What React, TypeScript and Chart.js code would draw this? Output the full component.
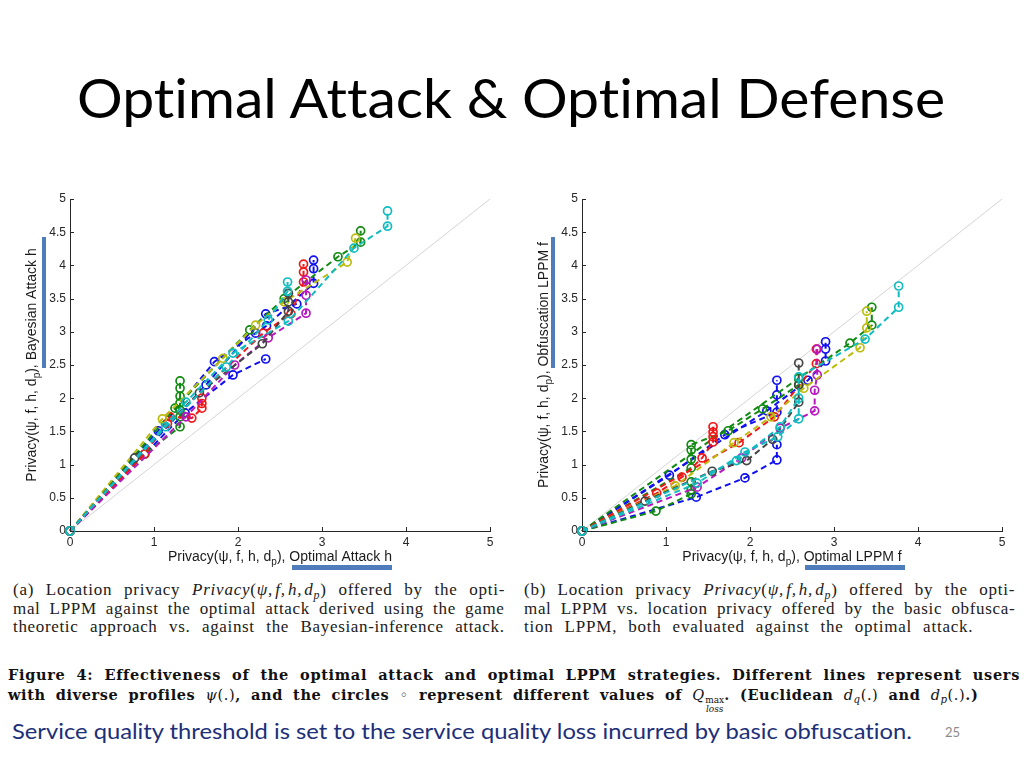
import React, { useEffect, useLayoutEffect, useRef } from 'react';
import { Chart, registerables } from 'chart.js';
Chart.register(...registerables);

type P = [number, number];

// ---------- axis ticks ----------
const xTickValues = [0, 1, 2, 3, 4, 5];
const yTickValues = [0, 0.5, 1, 1.5, 2, 2.5, 3, 3.5, 4, 4.5, 5];
const diagonal: P[] = [[0, 0], [5, 5]];

// ---------- (a) optimal attack (x) vs Bayesian attack (y) ----------
const aCyan1: P[] = [[0, 0], [1.14, 1.57], [1.86, 2.47], [2.36, 3.18], [2.59, 3.61], [2.59, 3.75]];
const aCyan2: P[] = [[0, 0], [1.38, 1.94], [1.94, 2.68], [2.6, 3.16], [3.38, 4.26], [3.78, 4.59], [3.78, 4.82]];
const aGreen1: P[] = [[0, 0], [0.89, 1.16], [1.31, 1.57], [1.31, 1.72], [1.31, 1.82], [1.31, 1.93], [1.31, 2.03], [1.31, 2.15], [1.31, 2.26]];
const aGreen2: P[] = [[0, 0], [1.25, 1.85], [2.14, 3.03], [2.55, 3.5], [3.19, 4.13], [3.46, 4.35], [3.46, 4.52]];
const aRed1: P[] = [[0, 0], [0.89, 1.16], [1.19, 1.72], [1.45, 1.7], [1.57, 1.85], [1.57, 1.92], [1.57, 2.0]];
const aRed2: P[] = [[0, 0], [1.16, 1.62], [2.3, 2.98], [2.63, 3.27], [2.78, 3.75], [2.78, 3.9], [2.78, 4.02]];
const aGrey1: P[] = [[0, 0], [0.77, 1.1], [1.54, 2.08], [2.29, 2.82], [2.6, 3.31], [2.6, 3.45], [2.6, 3.58]];
const aYellow1: P[] = [[0, 0], [1.1, 1.69], [1.82, 2.6], [2.21, 3.1], [2.55, 3.45], [3.3, 4.05], [3.4, 4.41]];
const aBlue1: P[] = [[0, 0], [1.05, 1.51], [1.72, 2.55], [2.21, 2.98], [2.34, 3.09], [2.9, 3.73], [2.9, 3.95], [2.9, 4.08]];
const aBlue2: P[] = [[0, 0], [1.37, 1.78], [1.94, 2.35], [2.33, 2.59]];
const aBlue3: P[] = [[0, 0], [1.62, 2.2], [2.33, 3.27], [2.7, 3.42]];
const aMagenta1: P[] = [[0, 0], [1.38, 1.72], [1.96, 2.5], [2.36, 2.91], [2.81, 3.28], [2.81, 3.55], [2.81, 3.78]];

// ---------- (b) optimal LPPM (x) vs obfuscation LPPM (y) ----------
const bCyan1: P[] = [[0, 0], [1.37, 0.72], [1.94, 1.19], [2.33, 1.42], [2.58, 1.69], [2.58, 2.32], [3.37, 2.89], [3.77, 3.37], [3.77, 3.69]];
const bCyan2: P[] = [[0, 0], [1.84, 1.06], [2.36, 1.57], [2.58, 2.0]];
const bBlue1: P[] = [[0, 0], [1.04, 0.84], [1.7, 1.45], [2.32, 1.79], [2.32, 2.05], [2.32, 2.27]];
const bBlue2: P[] = [[0, 0], [1.36, 0.51], [1.94, 0.8], [2.32, 1.07], [2.32, 1.3]];
const bBlue3: P[] = [[0, 0], [2.2, 1.81], [2.69, 2.27], [2.9, 2.56], [2.9, 2.74], [2.9, 2.85]];
const bGreen1: P[] = [[0, 0], [0.88, 0.3], [1.3, 0.56], [1.3, 0.62], [1.3, 0.74]];
const bGreen2: P[] = [[0, 0], [1.3, 0.95], [1.3, 1.08], [1.3, 1.22], [1.3, 1.3], [1.74, 1.51], [2.15, 1.84], [2.58, 2.2]];
const bGreen3: P[] = [[0, 0], [2.58, 2.3], [3.19, 2.83], [3.45, 3.1], [3.45, 3.37]];
const bRed1: P[] = [[0, 0], [0.89, 0.57], [1.19, 0.81], [1.43, 1.1], [1.56, 1.34], [1.56, 1.42], [1.56, 1.49], [1.56, 1.57]];
const bRed2: P[] = [[0, 0], [1.87, 1.33], [2.29, 1.72], [2.79, 2.52], [2.79, 2.74]];
const bGrey1: P[] = [[0, 0], [0.75, 0.45], [1.55, 0.9], [1.96, 1.06], [2.27, 1.38], [2.58, 1.94], [2.58, 2.2], [2.58, 2.53]];
const bYellow1: P[] = [[0, 0], [1.11, 0.68], [1.81, 1.33], [2.25, 1.72], [2.64, 2.15], [3.31, 2.76], [3.39, 3.06], [3.39, 3.31]];
const bMagenta1: P[] = [[0, 0], [1.37, 0.66], [1.9, 1.1], [2.36, 1.55], [2.77, 1.81], [2.77, 2.12], [2.8, 2.35], [2.8, 2.74]];

// ---------- styles ----------
const palette: Record<string, string> = {
  blue: '#1010f0',
  green: '#108a10',
  red: '#f01818',
  cyan: '#10bcc0',
  magenta: '#b818c0',
  yellow: '#bcbc10',
  grey: '#444444',
};

const seriesA: { data: P[]; color: string }[] = [
  { data: aCyan2, color: 'cyan' },
  { data: aCyan1, color: 'cyan' },
  { data: aGrey1, color: 'grey' },
  { data: aYellow1, color: 'yellow' },
  { data: aMagenta1, color: 'magenta' },
  { data: aRed2, color: 'red' },
  { data: aRed1, color: 'red' },
  { data: aGreen2, color: 'green' },
  { data: aGreen1, color: 'green' },
  { data: aBlue1, color: 'blue' },
  { data: aBlue2, color: 'blue' },
  { data: aBlue3, color: 'blue' },
];
const seriesB: { data: P[]; color: string }[] = [
  { data: bCyan1, color: 'cyan' },
  { data: bCyan2, color: 'cyan' },
  { data: bGrey1, color: 'grey' },
  { data: bYellow1, color: 'yellow' },
  { data: bMagenta1, color: 'magenta' },
  { data: bRed1, color: 'red' },
  { data: bRed2, color: 'red' },
  { data: bGreen1, color: 'green' },
  { data: bGreen2, color: 'green' },
  { data: bGreen3, color: 'green' },
  { data: bBlue1, color: 'blue' },
  { data: bBlue2, color: 'blue' },
  { data: bBlue3, color: 'blue' },
];

const AX = '#262626';
const SANS = "'Liberation Sans', Arial, sans-serif";

type Part = { t: string; sub?: boolean };
function drawParts(ctx: CanvasRenderingContext2D, parts: Part[], cx: number, cy: number) {
  const f = `14px ${SANS}`;
  const fs = `10px ${SANS}`;
  let total = 0;
  parts.forEach((p) => {
    ctx.font = p.sub ? fs : f;
    total += ctx.measureText(p.t).width;
  });
  let x = cx - total / 2;
  ctx.textBaseline = 'middle';
  ctx.textAlign = 'left';
  parts.forEach((p) => {
    ctx.font = p.sub ? fs : f;
    ctx.fillText(p.t, x, cy + (p.sub ? 5 : 0));
    x += ctx.measureText(p.t).width;
  });
}

function makeDecor(xTail: string, yTail: string) {
  return {
    id: 'decor',
    afterDraw(chart: any) {
      const { ctx, chartArea, scales } = chart;
      const { left, bottom } = chartArea;
      ctx.save();
      ctx.strokeStyle = AX;
      ctx.lineWidth = 1;
      ctx.beginPath();
      yTickValues.forEach((v) => {
        const py = Math.round(scales.y.getPixelForValue(v)) + 0.5;
        ctx.moveTo(left, py);
        ctx.lineTo(left + 4, py);
      });
      xTickValues.forEach((v) => {
        const px = Math.round(scales.x.getPixelForValue(v)) + 0.5;
        ctx.moveTo(px, bottom);
        ctx.lineTo(px, bottom - 4);
      });
      ctx.stroke();
      ctx.fillStyle = '#1a1a1a';
      const head: Part[] = [{ t: 'Privacy(ψ, f, h, d' }, { t: 'p', sub: true }];
      drawParts(ctx, [...head, { t: '), ' + xTail }], (chartArea.left + chartArea.right) / 2, bottom + 26);
      ctx.save();
      ctx.translate(32, (chartArea.top + chartArea.bottom) / 2);
      ctx.rotate(-Math.PI / 2);
      drawParts(ctx, [...head, { t: '), ' + yTail }], 0, 0);
      ctx.restore();
      ctx.restore();
    },
  };
}

function PrivacyChart(props: { series: { data: P[]; color: string }[]; xTail: string; yTail: string; left: number }) {
  const ref = useRef<HTMLCanvasElement>(null);
  useEffect(() => {
    const tickFont = { family: SANS, size: 12 };
    const datasets: any[] = props.series.map((s) => ({
      data: s.data.map(([x, y]) => ({ x, y })),
      borderColor: palette[s.color],
      backgroundColor: 'rgba(0,0,0,0)',
      pointBorderColor: palette[s.color],
      pointBackgroundColor: 'rgba(0,0,0,0)',
      borderDash: [6, 4],
      borderWidth: 2,
      pointRadius: 4,
      pointBorderWidth: 1.7,
      showLine: true,
      clip: false,
    }));
    datasets.push({
      data: diagonal.map(([x, y]) => ({ x, y })),
      borderColor: '#d4d4d4',
      borderWidth: 1,
      pointRadius: 0,
      showLine: true,
      order: 100,
    });
    const chart = new Chart(ref.current as HTMLCanvasElement, {
      type: 'scatter',
      data: { datasets },
      options: {
        animation: false,
        responsive: false,
        events: [],
        plugins: { legend: { display: false }, tooltip: { enabled: false } },
        layout: { padding: { top: 19, right: 20, left: 0, bottom: 0 } },
        scales: {
          x: {
            type: 'linear',
            min: 0,
            max: 5,
            afterFit: (s: any) => { s.height = 49; },
            afterBuildTicks: (s: any) => { s.ticks = xTickValues.map((v) => ({ value: v })); },
            ticks: { font: tickFont, color: AX, padding: 4, maxRotation: 0, callback: (v: any) => String(v) },
            grid: { display: false, drawTicks: false },
            border: { display: true, color: AX, width: 1 },
          },
          y: {
            type: 'linear',
            min: 0,
            max: 5,
            afterFit: (s: any) => { s.width = 70; },
            afterBuildTicks: (s: any) => { s.ticks = yTickValues.map((v) => ({ value: v })); },
            ticks: { font: tickFont, color: AX, padding: 4, callback: (v: any) => String(v) },
            grid: { display: false, drawTicks: false },
            border: { display: true, color: AX, width: 1 },
          },
        },
      } as any,
      plugins: [makeDecor(props.xTail, props.yTail)],
    });
    return () => chart.destroy();
  }, []);
  return (
    <canvas
      ref={ref}
      width={510}
      height={400}
      style={{ position: 'absolute', left: props.left, top: 180, width: 510, height: 400 }}
    />
  );
}

function Line(props: { w: number; mode?: 'justify' | 'scale'; style?: React.CSSProperties; children: React.ReactNode }) {
  const ref = useRef<HTMLSpanElement>(null);
  const mode = props.mode || 'justify';
  useLayoutEffect(() => {
    const el = ref.current;
    if (!el) return;
    const measure = () => {
      el.style.wordSpacing = '0px';
      el.style.letterSpacing = '0px';
      el.style.transform = 'none';
      const nat = el.offsetWidth;
      const txt = el.textContent || '';
      const spaces = txt.split(' ').length - 1;
      const chars = txt.length;
      if (mode === 'justify' && nat < props.w && spaces > 0) {
        const extra = props.w - nat;
        const ls = Math.min((extra * 0.5) / chars, 1.0);
        el.style.letterSpacing = ls + 'px';
        const nat2 = el.offsetWidth;
        el.style.wordSpacing = Math.max(0, props.w - nat2) / spaces + 'px';
      } else if (nat > 0) {
        el.style.transform = `scaleX(${props.w / nat})`;
      }
    };
    measure();
    const fonts = (document as any).fonts;
    if (fonts && fonts.ready) fonts.ready.then(measure);
  }, [props.w, mode]);
  return (
    <div style={{ whiteSpace: 'nowrap', ...props.style }}>
      <span ref={ref} style={{ display: 'inline-block', transformOrigin: '0 0' }}>
        {props.children}
      </span>
    </div>
  );
}

const Sub = (p: { children: React.ReactNode }) => (
  <span style={{ fontSize: '0.7em', position: 'relative', top: '0.3em' }}>{p.children}</span>
);

const PrivacyMath = () => (
  <>
    <i>Privacy</i>(<i>ψ,</i>&#8202;<i>f,</i>&#8202;<i>h,</i>&#8202;<i>d</i>
    <Sub>
      <i>p</i>
    </Sub>
    )
  </>
);

const Qmax = () => (
  <span style={{ fontWeight: 400, letterSpacing: 0 }}>
    <i>Q</i>
    <span
      style={{
        display: 'inline-flex',
        flexDirection: 'column',
        alignItems: 'center',
        fontSize: '0.62em',
        lineHeight: 1,
        verticalAlign: '-0.35em',
        marginLeft: 1,
        letterSpacing: 0,
      }}
    >
      <span>max</span>
      <i>loss</i>
    </span>
  </span>
);

const M = (p: { children: React.ReactNode }) => <span style={{ fontWeight: 400, fontStyle: 'italic' }}>{p.children}</span>;

const barColor = '#4f7dbb';

export default function App() {
  const serif = "'Liberation Serif', 'Times New Roman', serif";
  const capStyle: React.CSSProperties = { fontFamily: serif, fontSize: 17, lineHeight: '18px', color: '#202020' };
  const figStyle: React.CSSProperties = {
    fontFamily: "'DejaVu Serif', serif",
    fontWeight: 700,
    fontSize: 14.5,
    lineHeight: '20px',
    color: '#111',
  };
  return (
    <div
      style={{
        position: 'fixed',
        left: 0,
        top: 0,
        width: 1024,
        height: 768,
        background: '#fff',
        overflow: 'hidden',
        fontVariantLigatures: 'none',
      }}
    >
      <div
        style={{
          position: 'absolute',
          left: 77,
          top: 70,
          fontFamily: 'Lato, sans-serif',
          fontSize: 55,
          lineHeight: '55px',
          color: '#000',
        }}
      >
        <Line w={868} mode="scale">Optimal Attack &amp; Optimal Defense</Line>
      </div>

      <PrivacyChart series={seriesA} xTail="Optimal Attack h" yTail="Bayesian Attack h" left={0} />
      <PrivacyChart series={seriesB} xTail="Optimal LPPM f" yTail="Obfuscation LPPM f" left={512} />

      <div style={{ position: 'absolute', left: 42, top: 237, width: 4, height: 131, background: barColor }} />
      <div style={{ position: 'absolute', left: 292, top: 565, width: 100, height: 5, background: barColor }} />
      <div style={{ position: 'absolute', left: 551, top: 237, width: 4, height: 131, background: barColor }} />
      <div style={{ position: 'absolute', left: 805, top: 565, width: 100, height: 5, background: barColor }} />

      <div style={{ position: 'absolute', left: 13, top: 581, ...capStyle }}>
        <Line w={492}>
          (a) Location privacy <PrivacyMath /> offered by the opti-
        </Line>
        <Line w={492}>mal LPPM against the optimal attack derived using the game</Line>
        <Line w={492}>theoretic approach vs. against the Bayesian-inference attack.</Line>
      </div>
      <div style={{ position: 'absolute', left: 524, top: 581, ...capStyle }}>
        <Line w={491}>
          (b) Location privacy <PrivacyMath /> offered by the opti-
        </Line>
        <Line w={491}>mal LPPM vs. location privacy offered by the basic obfusca-</Line>
        <Line w={449}>tion LPPM, both evaluated against the optimal attack.</Line>
      </div>

      <div style={{ position: 'absolute', left: 8, top: 665, ...figStyle }}>
        <Line w={1012}>
          Figure 4: Effectiveness of the optimal attack and optimal LPPM strategies. Different lines represent users
        </Line>
        <Line w={970}>
          with diverse profiles <M>ψ</M>
          <span style={{ fontWeight: 400 }}>(.)</span>, and the circles <span style={{ fontWeight: 400 }}>◦</span> represent
          different values of <Qmax />. (Euclidean <M>d</M>
          <Sub>
            <M>q</M>
          </Sub>
          <span style={{ fontWeight: 400 }}>(.)</span> and <M>d</M>
          <Sub>
            <M>p</M>
          </Sub>
          <span style={{ fontWeight: 400 }}>(.)</span>.)
        </Line>
      </div>

      <div style={{ position: 'absolute', left: 12, top: 720, fontFamily: 'Lato, sans-serif', fontSize: 21, lineHeight: '22px', color: '#1c2f78' }}>
        <Line w={900} mode="scale">Service quality threshold is set to the service quality loss incurred by basic obfuscation.</Line>
      </div>
      <div style={{ position: 'absolute', left: 945, top: 725, fontFamily: 'Lato, sans-serif', fontSize: 13, lineHeight: '15px', color: '#8a8a8a' }}>
        25
      </div>
    </div>
  );
}
